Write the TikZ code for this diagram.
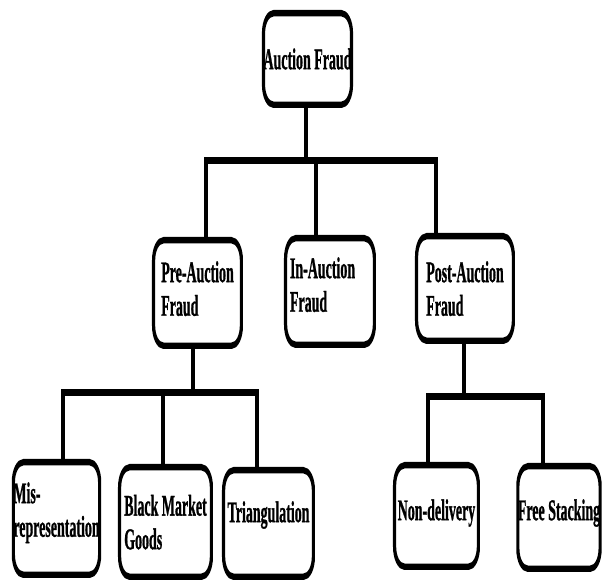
\documentclass[tikz,border=0pt]{standalone}
\usepackage{fontspec}
\setmainfont{Liberation Serif}[FakeStretch=0.93,BoldFeatures={FakeBold=1.2}]
\tikzset{
  fraud/.style={draw, rounded corners=10pt, line width=3.2pt, align=left, inner sep=0pt,
    font=\fontsize{15}{16.8}\selectfont\bfseries},
  branch/.style={line width=3.2pt}
}
\begin{document}
\begin{tikzpicture}[x=0.5pt,y=-0.5pt]
\path[fill=white,use as bounding box] (0,0) rectangle (602,581);
\begin{scope}[transform canvas={xscale=0.5},x=1pt,y=-0.5pt]
  % top level
  \node[fraud,minimum width=87.8pt,minimum height=45.8pt] at (307.5,59) (af) {Auction Fraud};
  % second level
  \node[fraud,minimum width=87.8pt,minimum height=52.8pt,text depth=4.45pt] at (197.5,293) (pre) {Pre-Auction\\Fraud};
  \node[fraud,minimum width=88.8pt,minimum height=53.3pt,text width=80pt,text depth=23.75pt] at (330,291.5) (in) {In-Auction\\Fraud};
  \node[fraud,minimum width=96.8pt,minimum height=52.3pt,text depth=0pt] at (465,288.5) (post) {Post-Auction\\Fraud};
  % third level
  \node[fraud,minimum width=83.8pt,minimum height=56.3pt,text depth=8.95pt] at (56.5,518.5) (mis) {Mis-\\representation};
  \node[fraud,minimum width=91.8pt,minimum height=54.8pt,text depth=-4.55pt] at (165.5,522) (black) {Black Market\\Goods};
  \node[fraud,minimum width=89.8pt,minimum height=53.3pt,text depth=11.75pt] at (268.5,523.5) (tri) {Triangulation};
  \node[fraud,minimum width=83.8pt,minimum height=50.8pt,text depth=6.25pt] at (436.5,516) (non) {Non-delivery};
  \node[fraud,minimum width=80.8pt,minimum height=51.3pt,text depth=7.75pt] at (559,517.5) (free) {Free Stacking};

  % bar under Auction Fraud
  \coordinate (t0) at (306,160.5);
  \coordinate (t1) at (206,160.5);
  \coordinate (t2) at (316,160.5);
  \coordinate (t3) at (436,160.5);
  \draw[branch] (af.south -| t0) -- (t0);
  \draw[branch] (pre.north -| t1) -- (t1) -- (t3) -- (post.north -| t3);
  \draw[branch] (t2) -- (in.north -| t2);

  % bar under Pre-Auction Fraud
  \coordinate (p0) at (193,392.5);
  \coordinate (p1) at (63,392.5);
  \coordinate (p2) at (163,392.5);
  \coordinate (p3) at (257,392.5);
  \draw[branch] (pre.south -| p0) -- (p0);
  \draw[branch] (mis.north -| p1) -- (p1) -- (p3) -- (tri.north -| p3);
  \draw[branch] (p2) -- (black.north -| p2);

  % bar under Post-Auction Fraud
  \coordinate (q0) at (464,396.5);
  \coordinate (q1) at (428,396.5);
  \coordinate (q2) at (543,396.5);
  \draw[branch] (post.south -| q0) -- (q0);
  \draw[branch] (non.north -| q1) -- (q1) -- (q2) -- (free.north -| q2);
\end{scope}
\end{tikzpicture}
\end{document}
